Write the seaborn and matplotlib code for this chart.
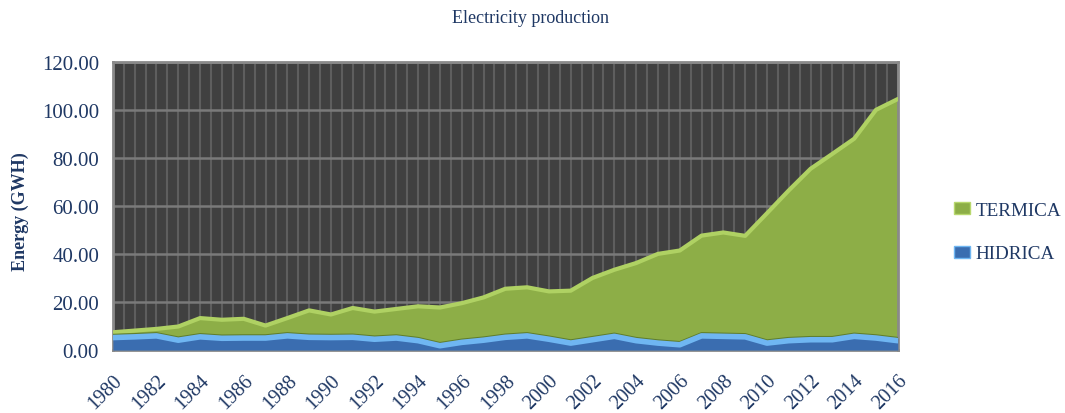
import matplotlib
matplotlib.use("Agg")
import pandas as pd
import matplotlib.pyplot as plt
import seaborn as sns
from matplotlib.ticker import MultipleLocator, FormatStrFormatter
from matplotlib.patches import Patch

# electricity production by source, GWH
years = list(range(1980, 2017))
hidrica = [6.2, 6.5, 6.9, 5.1, 6.5, 5.9, 6.0, 6.0, 6.9, 6.3, 6.2, 6.3, 5.5,
           6.0, 4.9, 2.8, 4.2, 5.1, 6.3, 6.9, 5.5, 3.9, 5.3, 6.7,
           4.9, 3.9, 3.2, 6.9, 6.7, 6.5, 3.9, 4.9, 5.3, 5.3, 6.7, 6.0, 4.9]
termica = [1.8, 2.2, 2.5, 5.3, 7.4, 7.3, 7.6, 4.8, 7.0, 10.8, 9.2, 11.8, 11.1,
           11.7, 13.9, 15.5, 15.9, 17.4, 19.8, 19.8, 19.5, 21.4, 25.3, 27.3,
           31.9, 36.7, 38.8, 41.3, 42.8, 41.6, 53.6, 62.1, 70.7, 76.9, 81.8, 94.5, 100.1]
series_names = ["TERMICA", "HIDRICA"]

df = pd.DataFrame({"Year": years, "HIDRICA": hidrica, "TERMICA": termica})
df["TOTAL"] = df["HIDRICA"] + df["TERMICA"]
df["HID_BAND"] = df["HIDRICA"] - 1.0
df["TOT_BAND"] = df["TOTAL"] - 0.6

sns.set_theme(style="dark")
plt.rcParams["font.family"] = ["Liberation Serif", "DejaVu Serif"]

navy = "#1F3864"
green = "#8DAE47"
blue = "#3A6DB0"

fig = plt.figure(figsize=(10.65, 4.14), dpi=100)
ax = fig.add_axes([0.106, 0.152, 0.737, 0.697])
ax.set_facecolor("#404040")

# stacked areas
ax.fill_between(df["Year"], df["HIDRICA"], df["TOTAL"], color=green, lw=0, zorder=2)
ax.fill_between(df["Year"], 0, df["HIDRICA"], color=blue, lw=0, zorder=3)

# bevel-ish edges
sns.lineplot(x="Year", y="TOT_BAND", data=df, color="#AFD163", lw=3, ax=ax, zorder=4)
sns.lineplot(x="Year", y="HIDRICA", data=df, color="#5F7D2C", lw=2, ax=ax, zorder=4)
sns.lineplot(x="Year", y="HID_BAND", data=df, color="#6FB6F2", lw=4, ax=ax, zorder=5)

ax.set_xlim(1980, 2016)
ax.set_ylim(0, 120)
ax.yaxis.set_major_locator(MultipleLocator(20))
ax.yaxis.set_major_formatter(FormatStrFormatter("%.2f"))
ax.xaxis.set_major_locator(MultipleLocator(2))
ax.xaxis.set_minor_locator(MultipleLocator(0.5))

ax.set_axisbelow(True)
ax.grid(axis="y", color="#7A7A7A", lw=1.8)
ax.grid(axis="x", which="both", color="#5E5E5E", lw=1.5)

for sp in ax.spines.values():
    sp.set_visible(True)
    sp.set_color("#8A8A8A")
    sp.set_linewidth(2)

ax.tick_params(axis="y", labelsize=15, labelcolor=navy, length=0, pad=10)
ax.tick_params(axis="x", which="both", length=0)
ax.tick_params(axis="x", labelsize=14.5, labelcolor=navy, pad=15)
for lab in ax.get_xticklabels():
    lab.set_rotation(45)
    lab.set_ha("right")
    lab.set_rotation_mode("anchor")

ax.set_xlabel("")
ax.set_ylabel("")

fig.text(0.498, 0.955, "Electricity production", ha="center", va="center",
         fontsize=13, color=navy)
fig.text(0.019, 0.49, "Energy (GWH)", rotation=90, ha="center", va="center",
         fontsize=13, fontweight="bold", color=navy)

handles = [Patch(facecolor=green, edgecolor="#B8D86E"),
           Patch(facecolor=blue, edgecolor="#6FB6F2")]
fig.legend(handles, series_names, loc="center left",
           bbox_to_anchor=(0.88, 0.437), frameon=False, fontsize=13.8,
           labelcolor=navy, handlelength=0.8, handleheight=0.6,
           handletextpad=0.3, labelspacing=1.4)

fig.savefig("out.png", dpi=100)
